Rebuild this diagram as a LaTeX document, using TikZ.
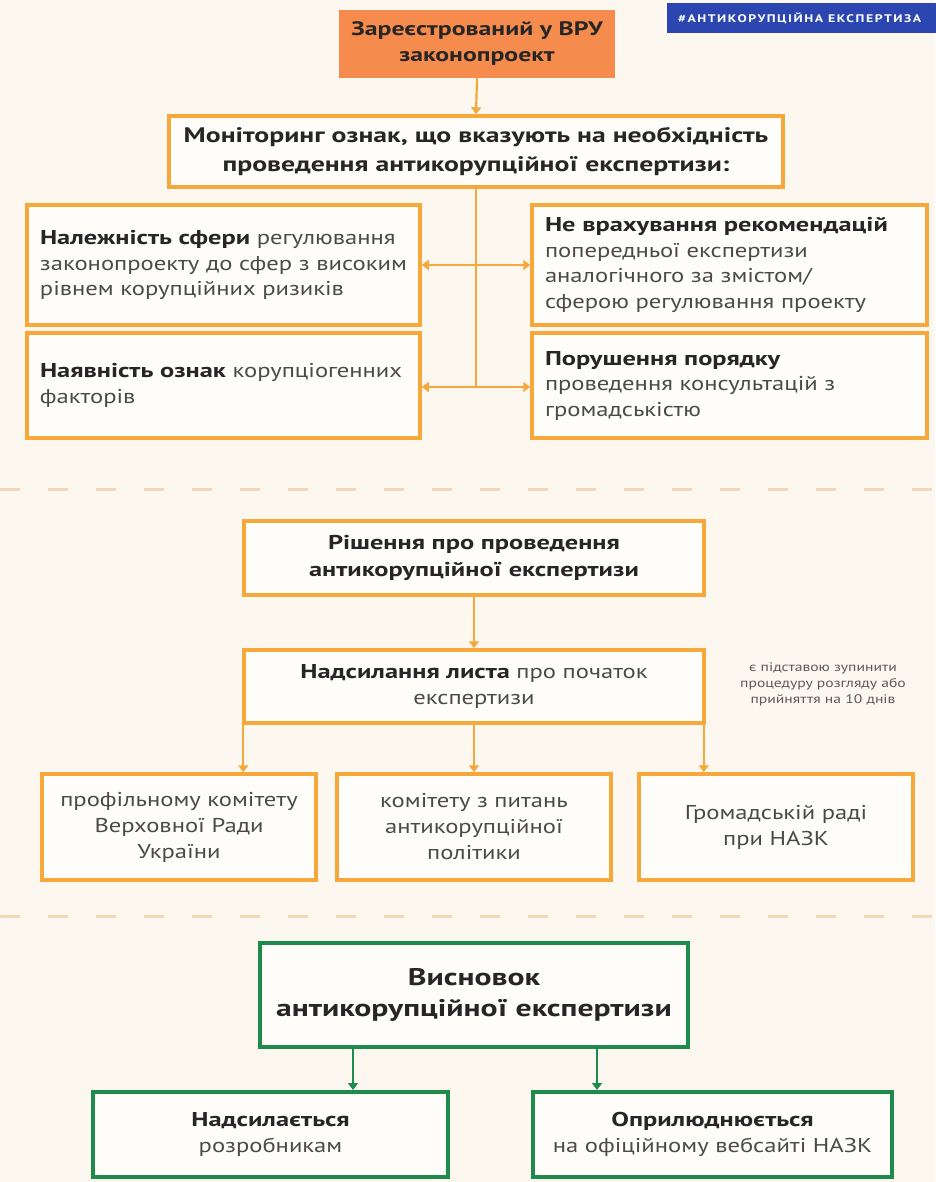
\documentclass[tikz,border=0pt]{standalone}
\usepackage{fontspec}
\setmainfont[UprightFeatures={FakeStretch=1.23}, BoldFeatures={FakeStretch=1.32}]{PT Sans}
\newfontfamily\tagfont[FakeStretch=1.25, LetterSpace=14]{PT Sans}
\newfontfamily\notefont[FakeStretch=1.25]{PT Sans}
\usetikzlibrary{arrows.meta,calc}
\definecolor{bg}{HTML}{FDF8EF}
\definecolor{boxfill}{HTML}{FFFDF9}
\definecolor{ofill}{HTML}{F58B4C}
\definecolor{oline}{HTML}{F6A83A}
\definecolor{gline}{HTML}{1E8B4D}
\definecolor{txt}{HTML}{262626}
\definecolor{txtb}{HTML}{4A4A4A}
\definecolor{sepc}{HTML}{F2D7B8}
\definecolor{tagblue}{HTML}{2C46B1}
\definecolor{notec}{HTML}{5A5A5A}
\newcommand{\oneline}[1]{\mbox{#1}}
\begin{document}
\begin{tikzpicture}[x=1pt,y=-1pt,
  obox/.style={draw=oline, line width=3.5pt, fill=boxfill, inner sep=0pt},
  gbox/.style={draw=gline, line width=4pt, fill=boxfill, inner sep=0pt},
  lbox/.style={align=left, text=txtb, inner xsep=13pt, font=\fontsize{20}{25.5}\selectfont},
  cbody/.style={align=center, text=txtb, font=\fontsize{20}{26}\selectfont},
  chead/.style={align=center, text=txt, font=\bfseries\fontsize{20}{27}\selectfont},
  arr/.style={draw=oline, line width=2.2pt, -{Triangle[width=10pt,length=7pt]}},
  garr/.style={draw=gline, line width=2.2pt, -{Triangle[width=10pt,length=7pt]}},
  sepline/.style={draw=sepc, line width=3pt, dash pattern=on 20pt off 28pt},
  tagbox/.style={fill=tagblue, text=white, inner xsep=11pt, inner ysep=0pt, anchor=north west, align=left,
    font=\tagfont\bfseries\fontsize{11}{12}\selectfont}
]
\useasboundingbox[fill=bg] (0,0) rectangle (935,1182);

% tag
\node[tagbox, minimum width=290pt, minimum height=30pt, text width=268pt] (tag) at (667,3) {\oneline{\#АНТИКОРУПЦІЙНА\hspace{5pt}ЕКСПЕРТИЗА}};

% top
\node[fill=ofill, inner sep=0pt, minimum width=276pt, minimum height=68pt, chead, font=\bfseries\fontsize{19.5}{26}\selectfont] (reg) at (477,44) {Зареєстрований у ВРУ\\законопроект};
\node[obox, chead, minimum width=614pt, minimum height=71pt, font=\bfseries\fontsize{21}{29}\selectfont] (mon) at (476,151.5) {Моніторинг ознак, що вказують на необхідність\\проведення антикорупційної експертизи:};

\node[obox, lbox, minimum height=120pt, text width=367pt] (l1) at (223.5,265)
  {\oneline{\textcolor{txt}{\textbf{Належність сфери}} регулювання}\\\oneline{законопроекту до сфер з високим}\\\oneline{рівнем корупційних ризиків}};
\node[obox, lbox, minimum height=120pt, text width=369pt] (r1) at (729.5,265)
  {\oneline{\textcolor{txt}{\textbf{Не врахування рекомендацій}}}\\\oneline{попередньої експертизи}\\\oneline{аналогічного за змістом/}\\\oneline{сферою регулювання проекту}};
\node[obox, lbox, minimum height=105pt, text width=367pt] (l2) at (223.5,385.5)
  {\oneline{\textcolor{txt}{\textbf{Наявність ознак}} корупціогенних}\\\oneline{факторів}};
\node[obox, lbox, minimum height=105pt, text width=369pt] (r2) at (729.5,385.5)
  {\oneline{\textcolor{txt}{\textbf{Порушення порядку}}}\\\oneline{проведення консультацій з}\\\oneline{громадськістю}};

\coordinate (j1) at (476,265);
\coordinate (j2) at (476,387);
\draw[arr] (reg.south) -- (mon.north);
\draw[draw=oline, line width=2.2pt] (mon.south) -- (j2);
\draw[arr] (j1) -- (l1.east);
\draw[arr] (j1) -- (r1.west);
\draw[arr] (j2) -- (l2.east |- j2);
\draw[arr] (j2) -- (r2.west |- j2);

\draw[sepline] (0,489) -- (935,489);

% middle
\node[obox, chead, minimum width=460pt, minimum height=74pt] (dec) at (474,558) {Рішення про проведення\\антикорупційної експертизи};
\node[obox, cbody, minimum width=460pt, minimum height=73pt] (nad) at (474,686.5) {\textcolor{txt}{\textbf{Надсилання листа}} про початок\\експертизи};
\node[align=center, text=notec, font=\notefont\fontsize{12.5}{16}\selectfont, inner sep=0pt] (note) at (823,684) {є підставою зупинити\\процедуру розгляду або\\прийняття на 10 днів};

\node[obox, cbody, minimum width=274pt, minimum height=106pt] (b1) at (179,827) {профільному комітету\\Верховної Ради\\України};
\node[obox, cbody, minimum width=274pt, minimum height=106pt] (b2) at (474,827) {комітету з питань\\антикорупційної\\політики};
\node[obox, cbody, minimum width=274pt, minimum height=106pt] (b3) at (776,827) {Громадській раді\\при НАЗК};

\draw[arr] (dec.south) -- (nad.north);
\coordinate (nl) at ($(nad.south west)+(1,0)$);
\coordinate (nr) at ($(nad.south east)+(-2,0)$);
\draw[arr] (nl) -- (nl |- b1.north);
\draw[arr] (nad.south) -- (b2.north);
\draw[arr] (nr) -- (nr |- b3.north);

\draw[sepline] (0,916) -- (935,916);

% bottom
\node[gbox, chead, line width=4.5pt, minimum width=428pt, minimum height=104pt, font=\bfseries\fontsize{24}{31}\selectfont] (con) at (474,995) {Висновок\\антикорупційної експертизи};
\node[gbox, cbody, minimum width=355pt, minimum height=85pt] (g1) at (270.5,1134.5) {\textcolor{txt}{\textbf{Надсилається}}\\розробникам};
\node[gbox, cbody, minimum width=359pt, minimum height=85pt] (g2) at (712.5,1134.5) {\textcolor{txt}{\textbf{Оприлюднюється}}\\на офіційному вебсайті НАЗК};
\coordinate (ga) at ($(con.south)+(-121,0)$);
\coordinate (gb) at ($(con.south)+(123,0)$);
\draw[garr] (ga) -- (ga |- g1.north);
\draw[garr] (gb) -- (gb |- g2.north);
\end{tikzpicture}
\end{document}
